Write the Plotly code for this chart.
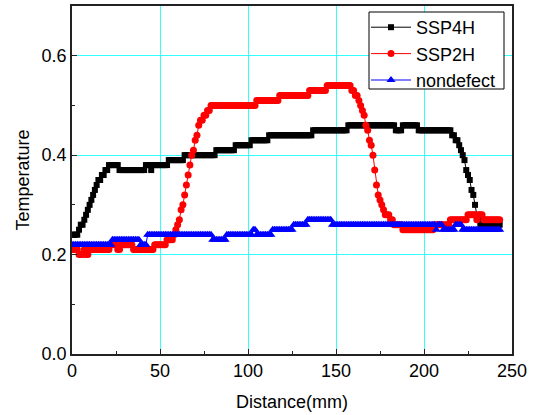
import plotly.graph_objects as go

# distance samples (mm)
distance = list(range(244))

ssp4h = [
    0.24, 0.24, 0.24, 0.24, 0.25, 0.26, 0.26, 0.27, 0.28, 0.29,  # 0
    0.30, 0.31, 0.32, 0.33, 0.34, 0.35, 0.35, 0.36, 0.36, 0.37,  # 10
    0.37, 0.38, 0.38, 0.38, 0.38, 0.38, 0.38, 0.37, 0.37, 0.37,  # 20
    0.37, 0.37, 0.37, 0.37, 0.37, 0.37, 0.37, 0.37, 0.37, 0.37,  # 30
    0.37, 0.37, 0.38, 0.38, 0.38, 0.37, 0.38, 0.38, 0.38, 0.38,  # 40
    0.38, 0.38, 0.38, 0.38, 0.38, 0.39, 0.39, 0.39, 0.39, 0.39,  # 50
    0.39, 0.39, 0.39, 0.39, 0.40, 0.40, 0.40, 0.40, 0.40, 0.40,  # 60
    0.40, 0.40, 0.40, 0.40, 0.40, 0.40, 0.40, 0.40, 0.40, 0.40,  # 70
    0.40, 0.40, 0.41, 0.41, 0.41, 0.41, 0.41, 0.41, 0.41, 0.41,  # 80
    0.41, 0.41, 0.41, 0.42, 0.42, 0.42, 0.42, 0.42, 0.42, 0.42,  # 90
    0.42, 0.42, 0.43, 0.43, 0.43, 0.43, 0.43, 0.43, 0.43, 0.43,  # 100
    0.43, 0.43, 0.44, 0.44, 0.44, 0.44, 0.44, 0.44, 0.44, 0.44,  # 110
    0.44, 0.44, 0.44, 0.44, 0.44, 0.44, 0.44, 0.44, 0.44, 0.44,  # 120
    0.44, 0.44, 0.44, 0.44, 0.44, 0.44, 0.44, 0.45, 0.45, 0.45,  # 130
    0.45, 0.45, 0.45, 0.45, 0.45, 0.45, 0.45, 0.45, 0.45, 0.45,  # 140
    0.45, 0.45, 0.45, 0.45, 0.45, 0.45, 0.45, 0.46, 0.46, 0.46,  # 150
    0.46, 0.46, 0.46, 0.46, 0.46, 0.46, 0.46, 0.46, 0.46, 0.46,  # 160
    0.46, 0.46, 0.46, 0.46, 0.46, 0.46, 0.46, 0.46, 0.46, 0.46,  # 170
    0.46, 0.46, 0.46, 0.46, 0.45, 0.45, 0.45, 0.45, 0.46, 0.46,  # 180
    0.46, 0.46, 0.46, 0.46, 0.46, 0.46, 0.46, 0.45, 0.45, 0.45,  # 190
    0.45, 0.45, 0.45, 0.45, 0.45, 0.45, 0.45, 0.45, 0.45, 0.45,  # 200
    0.45, 0.45, 0.45, 0.45, 0.45, 0.45, 0.44, 0.44, 0.43, 0.43,  # 210
    0.42, 0.41, 0.40, 0.39, 0.37, 0.36, 0.35, 0.33, 0.32, 0.30,  # 220
    0.28, 0.27, 0.26, 0.26, 0.26, 0.26, 0.26, 0.26, 0.26, 0.26,  # 230
    0.26, 0.26, 0.26, 0.26,                                      # 240
]

ssp2h = [
    0.21, 0.21, 0.21, 0.21, 0.20, 0.20, 0.20, 0.21, 0.20, 0.20,  # 0
    0.21, 0.21, 0.21, 0.21, 0.21, 0.21, 0.21, 0.21, 0.21, 0.21,  # 10
    0.21, 0.21, 0.22, 0.22, 0.22, 0.22, 0.21, 0.21, 0.22, 0.22,  # 20
    0.22, 0.22, 0.22, 0.22, 0.22, 0.21, 0.21, 0.21, 0.21, 0.21,  # 30
    0.21, 0.21, 0.21, 0.21, 0.21, 0.21, 0.21, 0.22, 0.22, 0.22,  # 40
    0.22, 0.22, 0.22, 0.22, 0.23, 0.23, 0.23, 0.23, 0.24, 0.25,  # 50
    0.26, 0.27, 0.29, 0.30, 0.32, 0.34, 0.36, 0.38, 0.40, 0.41,  # 60
    0.43, 0.44, 0.46, 0.47, 0.47, 0.48, 0.48, 0.49, 0.49, 0.50,  # 70
    0.50, 0.50, 0.50, 0.50, 0.50, 0.50, 0.50, 0.50, 0.50, 0.50,  # 80
    0.50, 0.50, 0.50, 0.50, 0.50, 0.50, 0.50, 0.50, 0.50, 0.50,  # 90
    0.50, 0.50, 0.50, 0.50, 0.50, 0.51, 0.51, 0.51, 0.51, 0.51,  # 100
    0.51, 0.51, 0.51, 0.51, 0.51, 0.51, 0.51, 0.51, 0.52, 0.52,  # 110
    0.52, 0.52, 0.52, 0.52, 0.52, 0.52, 0.52, 0.52, 0.52, 0.52,  # 120
    0.52, 0.52, 0.52, 0.52, 0.52, 0.53, 0.53, 0.53, 0.53, 0.53,  # 130
    0.53, 0.53, 0.53, 0.53, 0.53, 0.54, 0.54, 0.54, 0.54, 0.54,  # 140
    0.54, 0.54, 0.54, 0.54, 0.54, 0.54, 0.54, 0.54, 0.54, 0.53,  # 150
    0.53, 0.52, 0.52, 0.51, 0.50, 0.49, 0.48, 0.46, 0.45, 0.43,  # 160
    0.42, 0.40, 0.37, 0.34, 0.32, 0.31, 0.30, 0.29, 0.28, 0.28,  # 170
    0.28, 0.27, 0.27, 0.26, 0.26, 0.26, 0.26, 0.26, 0.25, 0.25,  # 180
    0.25, 0.25, 0.25, 0.25, 0.25, 0.25, 0.25, 0.25, 0.25, 0.25,  # 190
    0.25, 0.25, 0.25, 0.25, 0.25, 0.25, 0.26, 0.26, 0.26, 0.26,  # 200
    0.26, 0.26, 0.26, 0.26, 0.26, 0.27, 0.27, 0.27, 0.27, 0.27,  # 210
    0.27, 0.27, 0.27, 0.27, 0.27, 0.28, 0.28, 0.28, 0.28, 0.28,  # 220
    0.27, 0.28, 0.28, 0.28, 0.27, 0.27, 0.27, 0.27, 0.27, 0.27,  # 230
    0.27, 0.27, 0.27, 0.27,                                      # 240
]

nondefect = [
    0.22, 0.22, 0.22, 0.22, 0.22, 0.22, 0.22, 0.22, 0.22, 0.22,  # 0
    0.22, 0.22, 0.22, 0.22, 0.22, 0.22, 0.22, 0.22, 0.22, 0.22,  # 10
    0.22, 0.22, 0.22, 0.23, 0.23, 0.23, 0.23, 0.23, 0.23, 0.23,  # 20
    0.23, 0.23, 0.23, 0.23, 0.23, 0.23, 0.23, 0.23, 0.23, 0.22,  # 30
    0.22, 0.22, 0.22, 0.24, 0.24, 0.24, 0.24, 0.24, 0.24, 0.24,  # 40
    0.24, 0.24, 0.24, 0.24, 0.24, 0.24, 0.24, 0.24, 0.24, 0.24,  # 50
    0.24, 0.24, 0.24, 0.24, 0.24, 0.24, 0.24, 0.24, 0.24, 0.24,  # 60
    0.24, 0.24, 0.24, 0.24, 0.24, 0.24, 0.24, 0.24, 0.24, 0.24,  # 70
    0.23, 0.23, 0.23, 0.23, 0.23, 0.23, 0.23, 0.23, 0.24, 0.24,  # 80
    0.24, 0.24, 0.24, 0.24, 0.24, 0.24, 0.24, 0.24, 0.24, 0.24,  # 90
    0.24, 0.24, 0.24, 0.25, 0.25, 0.24, 0.24, 0.24, 0.24, 0.24,  # 100
    0.24, 0.24, 0.24, 0.24, 0.25, 0.25, 0.25, 0.25, 0.25, 0.25,  # 110
    0.25, 0.25, 0.25, 0.25, 0.25, 0.25, 0.26, 0.26, 0.26, 0.26,  # 120
    0.26, 0.26, 0.26, 0.26, 0.27, 0.27, 0.27, 0.27, 0.27, 0.27,  # 130
    0.27, 0.27, 0.27, 0.27, 0.27, 0.27, 0.27, 0.27, 0.26, 0.26,  # 140
    0.26, 0.26, 0.26, 0.26, 0.26, 0.26, 0.26, 0.26, 0.26, 0.26,  # 150
    0.26, 0.26, 0.26, 0.26, 0.26, 0.26, 0.26, 0.26, 0.26, 0.26,  # 160
    0.26, 0.26, 0.26, 0.26, 0.26, 0.26, 0.26, 0.26, 0.26, 0.26,  # 170
    0.26, 0.26, 0.26, 0.26, 0.26, 0.26, 0.26, 0.26, 0.26, 0.26,  # 180
    0.26, 0.26, 0.26, 0.26, 0.26, 0.26, 0.26, 0.26, 0.26, 0.26,  # 190
    0.26, 0.26, 0.26, 0.26, 0.26, 0.26, 0.26, 0.25, 0.26, 0.26,  # 200
    0.26, 0.25, 0.25, 0.25, 0.25, 0.25, 0.25, 0.25, 0.26, 0.26,  # 210
    0.26, 0.26, 0.25, 0.25, 0.25, 0.25, 0.25, 0.25, 0.25, 0.25,  # 220
    0.25, 0.25, 0.25, 0.25, 0.25, 0.25, 0.25, 0.25, 0.25, 0.25,  # 230
    0.25, 0.25, 0.25, 0.25,                                      # 240
]

x_ticks = [0, 50, 100, 150, 200, 250]
y_ticks = [0.0, 0.2, 0.4, 0.6]

FONT = "Liberation Sans, Arial, sans-serif"

fig = go.Figure()
fig.add_trace(go.Scatter(
    x=distance, y=ssp4h, name="SSP4H", mode="lines+markers",
    line=dict(color="black", width=1),
    marker=dict(symbol="square", size=6, color="black"),
))
fig.add_trace(go.Scatter(
    x=distance, y=ssp2h, name="SSP2H", mode="lines+markers",
    line=dict(color="#ff0000", width=1),
    marker=dict(symbol="circle", size=7, color="#ff0000"),
))
fig.add_trace(go.Scatter(
    x=distance, y=nondefect, name="nondefect", mode="lines+markers",
    line=dict(color="#0000ff", width=1),
    marker=dict(symbol="triangle-up", size=8, color="#0000ff"),
))

axis_common = dict(
    showline=True, linecolor="#222222", linewidth=1.5, mirror=True,
    showgrid=True, gridcolor="#33ffff", gridwidth=1,
    zeroline=False, ticks="inside", ticklen=5, tickwidth=1, tickcolor="#222222",
    tickfont=dict(family=FONT, size=18, color="black"),
    automargin=False,
)

fig.update_xaxes(
    range=[0, 250], tickvals=x_ticks,
    minor=dict(ticks="inside", ticklen=3, dtick=25, tick0=0, showgrid=False, tickcolor="#222222"),
    title=dict(text="Distance(mm)", font=dict(family=FONT, size=18, color="black"), standoff=15),
    **axis_common,
)
fig.update_yaxes(
    range=[0, 0.7], tickvals=y_ticks, tickformat=".1f",
    minor=dict(ticks="inside", ticklen=3, dtick=0.1, tick0=0, showgrid=False, tickcolor="#222222"),
    title=dict(text="Temperature", font=dict(family=FONT, size=18, color="black"), standoff=7),
    **axis_common,
)

# legend frame (paper coordinates of the plot area)
PLOT_L, PLOT_W, PLOT_T, PLOT_H = 72, 440, 6, 348
box_px = dict(x0=369, x1=504, y0=12, y1=89)
fig.add_shape(
    type="rect", xref="paper", yref="paper", layer="above",
    x0=(box_px["x0"] - PLOT_L) / PLOT_W, x1=(box_px["x1"] - PLOT_L) / PLOT_W,
    y0=1 - (box_px["y1"] - PLOT_T) / PLOT_H, y1=1 - (box_px["y0"] - PLOT_T) / PLOT_H,
    line=dict(color="black", width=1), fillcolor="white",
)

fig.update_layout(
    width=535, height=415,
    margin=dict(l=PLOT_L, r=535 - PLOT_L - PLOT_W, t=PLOT_T, b=415 - PLOT_T - PLOT_H),
    paper_bgcolor="white", plot_bgcolor="white",
    font=dict(family=FONT, size=18, color="black"),
    showlegend=True,
    legend=dict(
        x=(366 - PLOT_L) / PLOT_W, y=1 - (9 - PLOT_T) / PLOT_H, xanchor="left", yanchor="top",
        bgcolor="rgba(0,0,0,0)", borderwidth=0,
        font=dict(family=FONT, size=18, color="black"),
        tracegroupgap=0, itemwidth=40,
    ),
)

fig.write_html(
    "out.html",
    config={"displayModeBar": False},
    post_script="document.body.style.margin='0';document.body.style.padding='0';",
)
